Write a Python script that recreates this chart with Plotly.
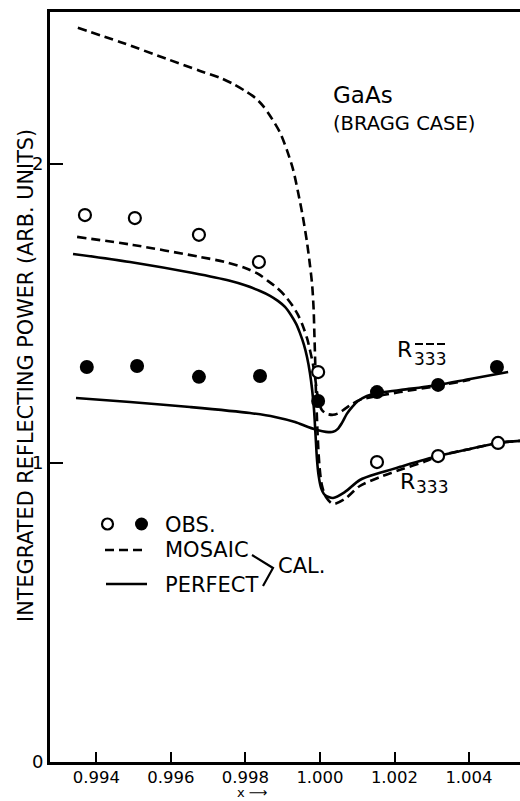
import plotly.graph_objects as go

# ---------------- data ----------------
# Observed points
x_obs_333 = [0.99369, 0.99503, 0.99675, 0.99836, 0.99995, 1.00153, 1.00317, 1.00478]
y_obs_333 = [1.829, 1.819, 1.763, 1.672, 1.304, 1.003, 1.023, 1.067]
x_obs_333bar = [0.99374, 0.99509, 0.99675, 0.99839, 0.99995, 1.00153, 1.00317, 1.00475]
y_obs_333bar = [1.321, 1.324, 1.288, 1.291, 1.207, 1.237, 1.261, 1.321]

# Calculated, mosaic, R333
x_mos_333 = [0.99350, 0.99463, 0.99589, 0.99678, 0.99732, 0.99766, 0.99799, 0.99826,
             0.99847, 0.99868, 0.99893, 0.99911, 0.99928, 0.99941, 0.99954, 0.99965,
             0.99973, 0.99979, 0.99983, 0.99985, 0.99987, 0.99989, 0.99992, 0.99995,
             0.99999, 1.00005, 1.00016, 1.00035, 1.00067, 1.00107, 1.00161, 1.00215,
             1.00287, 1.00317, 1.00403, 1.00478, 1.00537]
y_mos_333 = [2.455, 2.408, 2.351, 2.311, 2.288, 2.268, 2.244, 2.221,
             2.194, 2.157, 2.104, 2.047, 1.980, 1.906, 1.823, 1.739,
             1.662, 1.595, 1.512, 1.428, 1.344, 1.244, 1.144, 1.060,
             0.983, 0.926, 0.886, 0.863, 0.880, 0.923, 0.953, 0.977,
             1.007, 1.023, 1.047, 1.067, 1.074]

# Calculated, perfect, R333
x_per_333 = [0.99337, 0.99490, 0.99659, 0.99758, 0.99799, 0.99839, 0.99866, 0.99887,
             0.99906, 0.99922, 0.99936, 0.99946, 0.99957, 0.99965, 0.99973, 0.99979,
             0.99984, 0.99988, 0.99992, 0.99996, 1.00003, 1.00013, 1.00035, 1.00067,
             1.00107, 1.00161, 1.00215, 1.00317, 1.00403, 1.00478, 1.00537]
y_per_333 = [1.699, 1.672, 1.635, 1.609, 1.594, 1.575, 1.559, 1.542,
             1.522, 1.495, 1.465, 1.435, 1.395, 1.355, 1.301, 1.244,
             1.177, 1.094, 1.010, 0.960, 0.916, 0.893, 0.883, 0.903,
             0.943, 0.967, 0.987, 1.023, 1.047, 1.067, 1.074]

# Calculated, mosaic, R(-3-3-3)
x_mos_333bar = [0.99348, 0.99498, 0.99678, 0.99745, 0.99799, 0.99834, 0.99860, 0.99885,
                0.99906, 0.99925, 0.99941, 0.99954, 0.99965, 0.99973, 0.99981, 0.99987,
                0.99992, 0.99997, 1.00005, 1.00019, 1.00035, 1.00051, 1.00067, 1.00086,
                1.00107, 1.00153, 1.00215, 1.00317, 1.00403]
y_mos_333bar = [1.756, 1.729, 1.689, 1.672, 1.652, 1.632, 1.609, 1.585,
                1.559, 1.528, 1.495, 1.458, 1.418, 1.378, 1.331, 1.284,
                1.237, 1.204, 1.177, 1.164, 1.161, 1.167, 1.181, 1.197,
                1.211, 1.224, 1.237, 1.258, 1.278]

# Calculated, perfect, R(-3-3-3)
x_per_333bar = [0.99345, 0.99490, 0.99651, 0.99812, 0.99879, 0.99933, 0.99968, 0.99995,
                1.00016, 1.00035, 1.00048, 1.00059, 1.00072, 1.00086, 1.00102, 1.00126,
                1.00153, 1.00215, 1.00317, 1.00403, 1.00505]
y_per_333bar = [1.217, 1.204, 1.187, 1.167, 1.154, 1.137, 1.120, 1.109,
                1.104, 1.104, 1.114, 1.134, 1.164, 1.187, 1.207, 1.224,
                1.234, 1.244, 1.261, 1.281, 1.304]

x_ticks = [0.994, 0.996, 0.998, 1.000, 1.002, 1.004]
x_tick_text = ["0.994", "0.996", "0.998", "1.000", "1.002", "1.004"]
y_ticks = [0, 1, 2]
y_tick_text = ["0", "1", "2"]

X_RANGE = [0.992752, 1.005369]
Y_RANGE = [0.0, 2.508]

# ---------------- layout helpers (pixel -> paper) ----------------
W, H = 520, 801
L, R, T, B = 50, 0, 12, 39
PW, PH = W - L - R, H - T - B


def px(xp):
    return (xp - L) / PW


def py(yp):
    return (H - B - yp) / PH


FONT = "DejaVu Sans"
DASH = "9px,5px"
LW = 2.6
SMOOTH = 0.8

fig = go.Figure()


def curve(xs, ys, dash=None):
    fig.add_trace(go.Scatter(x=xs, y=ys, mode="lines",
                             line=dict(color="black", width=LW, dash=dash,
                                       shape="spline", smoothing=SMOOTH),
                             hoverinfo="skip", showlegend=False))


curve(x_mos_333, y_mos_333, DASH)
curve(x_per_333, y_per_333)
curve(x_mos_333bar, y_mos_333bar, DASH)
curve(x_per_333bar, y_per_333bar)

fig.add_trace(go.Scatter(x=x_obs_333, y=y_obs_333, mode="markers",
                         marker=dict(symbol="circle", size=12, color="white",
                                     line=dict(color="black", width=2.2)),
                         showlegend=False))
fig.add_trace(go.Scatter(x=x_obs_333bar, y=y_obs_333bar, mode="markers",
                         marker=dict(symbol="circle", size=14, color="black",
                                     line=dict(color="black", width=0)),
                         showlegend=False))

annotations = []


def text(s, xp, yp, size, xanchor="left", angle=0):
    annotations.append(dict(text=s, x=px(xp), y=py(yp), xref="paper", yref="paper",
                            xanchor=xanchor, yanchor="middle", showarrow=False,
                            textangle=angle, font=dict(family=FONT, size=size, color="black")))


text("GaAs", 331, 95, 23)
text("(BRAGG CASE)", 331, 123, 19.5)
text("R", 395, 349, 22)
text("333", 412, 359, 17)
text("R", 398, 481, 22)
text("333", 414, 487, 17)
text("OBS.", 163, 525, 21)
text("MOSAIC", 163, 550, 21)
text("PERFECT", 163, 585, 21)
text("CAL.", 276, 566, 21)
text("INTEGRATED REFLECTING POWER (ARB. UNITS)", 26, 376, 20.8, xanchor="center", angle=-90)
text("x \u27f6", 252, 792, 13, xanchor="center")

shapes = []
# bars over the digits of the R(-3-3-3) label
for x0 in (415, 426, 437):
    shapes.append(dict(type="line", xref="paper", yref="paper",
                       x0=px(x0), x1=px(x0 + 8), y0=py(344), y1=py(344),
                       line=dict(color="black", width=2)))
# legend symbols
shapes.append(dict(type="circle", xref="paper", yref="paper",
                   x0=px(102), x1=px(113), y0=py(518.5), y1=py(529.5),
                   line=dict(color="black", width=2.2), fillcolor="white"))
shapes.append(dict(type="circle", xref="paper", yref="paper",
                   x0=px(135), x1=px(148), y0=py(517.5), y1=py(530.5),
                   line=dict(color="black", width=0), fillcolor="black"))
shapes.append(dict(type="line", xref="paper", yref="paper",
                   x0=px(105), x1=px(147), y0=py(550), y1=py(550),
                   line=dict(color="black", width=LW, dash=DASH)))
shapes.append(dict(type="line", xref="paper", yref="paper",
                   x0=px(106), x1=px(147), y0=py(584), y1=py(584),
                   line=dict(color="black", width=LW)))
# brace '>'
shapes.append(dict(type="path", xref="paper", yref="paper",
                   path=f"M {px(252)},{py(555)} L {px(273)},{py(568)} L {px(263)},{py(586)}",
                   line=dict(color="black", width=2.2)))

fig.update_layout(
    width=W, height=H, autosize=False,
    margin=dict(l=L, r=R, t=T, b=B, pad=0),
    paper_bgcolor="white", plot_bgcolor="white",
    font=dict(family=FONT, color="black"),
    showlegend=False,
    annotations=annotations,
    shapes=shapes,
    xaxis=dict(range=X_RANGE, tickvals=x_ticks, ticktext=x_tick_text,
               ticks="inside", ticklen=10, tickwidth=2, tickcolor="black",
               ticklabelstandoff=-2,
               showline=True, linewidth=2.6, linecolor="black", mirror=True,
               showgrid=False, zeroline=False, tickfont=dict(size=16.5, family=FONT)),
    yaxis=dict(range=Y_RANGE, tickvals=y_ticks, ticktext=y_tick_text,
               ticks="inside", ticklen=13, tickwidth=2, tickcolor="black",
               showline=True, linewidth=2.8, linecolor="black", mirror=False,
               showgrid=False, zeroline=False, tickfont=dict(size=18, family=FONT)),
)

fig.write_html("out.html")
